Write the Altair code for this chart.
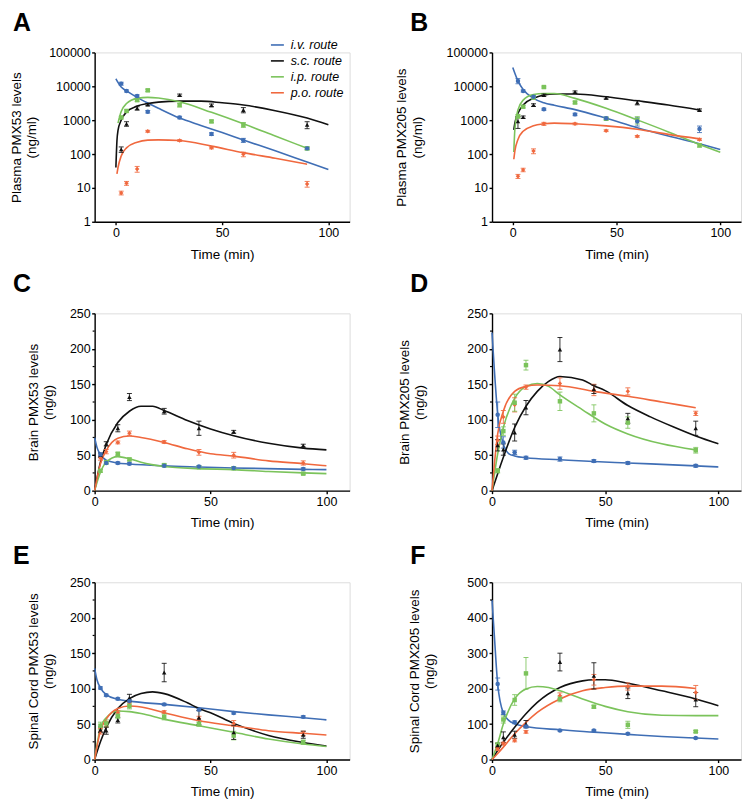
import altair as alt
import pandas as pd

FONT = "Liberation Sans"
ROUTES = ["i.v. route", "s.c. route", "i.p. route", "p.o. route"]
COLORS = ["#3F6EB5", "#111111", "#7BC35B", "#F0683E"]
SHAPES = ["circle", "triangle-up", "square", "diamond"]
TIMES = [2.5, 5, 10, 15, 30, 45, 60, 90]

# ---------------- Panel A: Plasma PMX53 (ng/ml) ----------------
A_IV = [12000, 7300, 5200, 1780, 1200, 390, 255, 147]
A_IV_E = [1200, 500, 400, 150, 100, 35, 35, 12]
A_SC = [137, 780, 2240, 2870, 5500, 2750, 2000, 730]
A_SC_E = [25, 120, 250, 200, 400, 250, 350, 170]
A_IP = [1200, 1870, 3900, 7600, 2800, 920, 730, 147]
A_IP_E = [100, 150, 300, 600, 350, 80, 120, 15]
A_PO = [7.1, 13.7, 36, 470, 250, 152, 98, 13]
A_PO_E = [0.9, 1.8, 7, 30, 15, 10, 15, 2.5]
A_IV_CT = [0, 2.5, 5, 10, 15, 20, 30, 40, 50, 60, 75, 90, 100]
A_IV_CY = [16700, 9500, 7300, 4700, 3200, 2240, 1150, 700, 430, 260, 124, 58, 35]
A_SC_CT = [0, 0.5, 1, 2.5, 5, 10, 15, 20, 30, 40, 50, 60, 75, 90, 100]
A_SC_CY = [40, 250, 500, 1000, 1750, 2600, 3100, 3400, 3650, 3650, 3250, 2800, 1900, 1150, 730]
A_IP_CT = [1, 2.5, 5, 10, 15, 20, 30, 45, 60, 75, 90]
A_IP_CY = [820, 1800, 3100, 4400, 4700, 4500, 3500, 1700, 780, 340, 148]
A_PO_CT = [0.5, 1, 2.5, 5, 10, 15, 20, 30, 45, 60, 75, 90]
A_PO_CY = [26, 40, 88, 152, 224, 257, 262, 250, 171, 110, 75, 50]

# ---------------- Panel B: Plasma PMX205 (ng/ml) ----------------
B_IV = [14400, 7300, 4900, 2100, 1480, 1140, 920, 550]
B_IV_E = [2500, 500, 400, 150, 120, 100, 250, 120]
B_SC = [920, 1230, 2800, 5500, 6800, 4600, 3330, 2000]
B_SC_E = [350, 100, 250, 400, 500, 400, 500, 150]
B_IP = [1300, 2500, 4600, 9500, 3330, 1100, 1020, 180]
B_IP_E = [150, 200, 300, 600, 300, 100, 250, 20]
B_PO = [22, 34, 122, 780, 780, 490, 333, 270]
B_PO_E = [3, 4, 20, 80, 50, 30, 20, 20]
B_IV_CT = [0, 2.5, 5, 10, 15, 20, 30, 45, 60, 75, 90, 100]
B_IV_CY = [36000, 14400, 8000, 4400, 3270, 2750, 2050, 1140, 600, 340, 200, 137]
B_SC_CT = [0.5, 1, 2.5, 5, 10, 15, 20, 30, 45, 60, 75, 90]
B_SC_CY = [520, 820, 1600, 2800, 4400, 5500, 5900, 5900, 4900, 3730, 2800, 2000]
B_IP_CT = [0.5, 1, 2.5, 5, 10, 15, 20, 30, 45, 60, 75, 90, 100]
B_IP_CY = [115, 520, 2000, 3900, 5700, 6100, 6100, 4400, 2240, 1020, 450, 190, 112]
B_PO_CT = [0.5, 1, 2.5, 5, 10, 15, 20, 30, 45, 60, 75, 90]
B_PO_CY = [70, 122, 270, 470, 680, 780, 820, 780, 680, 540, 380, 280]

# ---------------- Panel C: Brain PMX53 (ng/g) ----------------
C_IV = [51, 39, 39, 38, 35, 34, 32, 30.6]
C_IV_E = [2, 1.5, 1.5, 1.5, 1.5, 1.5, 1.5, 1.5]
C_SC = [50, 66, 88, 132, 112, 88, 83, 63.5]
C_SC_E = [3, 3, 5, 5, 4, 10, 2, 2]
C_IP = [28, 40, 52, 44, 36, 33, 31.5, 24]
C_IP_E = [2, 2, 2, 2, 2, 1.5, 1.5, 1.5]
C_PO = [46, 55, 68, 81, 68.6, 54, 50, 39]
C_PO_E = [3, 3, 2, 3, 2, 4, 4, 3]
C_IV_CT = [0, 1, 2.5, 5, 10, 15, 30, 45, 60, 90, 100]
C_IV_CY = [75, 61, 51, 43, 39, 37.6, 35, 33.4, 32, 30, 29.7]
C_SC_CT = [0, 2.5, 5, 10, 15, 20, 25, 30, 40, 50, 60, 75, 90, 100]
C_SC_CY = [0, 40, 65, 96, 112, 119, 119, 113, 99, 87, 77.5, 66.8, 60, 57.5]
C_IP_CT = [0, 2.5, 5, 10, 15, 20, 30, 45, 60, 75, 90, 100]
C_IP_CY = [0, 26, 40, 48, 45, 40, 34, 31, 29.7, 27, 25, 24]
C_PO_CT = [0, 2.5, 5, 10, 15, 20, 30, 40, 50, 60, 75, 90, 100]
C_PO_CY = [0, 38, 56.6, 74, 77, 75, 68, 59, 52, 48.7, 42, 38, 35]

# ---------------- Panel D: Brain PMX205 (ng/g) ----------------
D_IV = [107, 68, 54, 46.4, 44.5, 41.7, 39, 35]
D_IV_E = [18, 8, 3, 2, 3, 2, 2, 2]
D_SC = [64, 58, 82, 117, 199, 143, 102, 88]
D_SC_E = [8, 8, 12, 10, 17, 6, 7, 10]
D_IP = [28, 84, 124, 177, 126, 109, 96, 57]
D_IP_E = [3, 6, 12, 7, 13, 12, 8, 4]
D_PO = [71, 104, 121, 146, 151, 142, 140, 109]
D_PO_E = [6, 9, 10, 3, 8, 8, 5, 3]
D_IV_CT = [0, 1, 2.5, 5, 7.5, 10, 15, 30, 45, 60, 90, 100]
D_IV_CY = [223, 172, 108, 66, 52, 49, 46.4, 43.6, 41, 39, 35, 33.4]
D_SC_CT = [0, 2.5, 5, 10, 15, 20, 25, 30, 40, 45, 50, 60, 70, 80, 90, 100]
D_SC_CY = [0, 24, 47, 89, 119, 140, 154, 161, 156, 148, 141, 120, 104, 90, 77, 66]
D_IP_CT = [0, 2.5, 5, 10, 15, 20, 25, 30, 40, 50, 60, 75, 90]
D_IP_CY = [0, 52, 89, 130, 147, 151, 147, 135, 114, 94, 80, 66, 57.5]
D_PO_CT = [0, 2.5, 5, 10, 15, 20, 30, 45, 60, 75, 90]
D_PO_CY = [0, 80, 112, 140, 147, 149, 148, 140, 133, 125, 117]

# ---------------- Panel E: Spinal Cord PMX53 (ng/g) ----------------
E_IV = [101, 90.7, 85.6, 82.4, 77.8, 70.4, 65.7, 60.2]
E_IV_E = [1.5, 1.5, 1.5, 1.5, 1.5, 1.5, 1.5, 1.5]
E_SC = [42, 40.7, 55.6, 87, 122.7, 59, 38.4, 35]
E_SC_E = [4, 5, 4, 5, 13, 10, 10, 5]
E_IP = [47.7, 51, 61.6, 75.5, 60, 50, 33.8, 24.5]
E_IP_E = [5, 5, 4, 4, 4, 3, 6, 3]
E_PO = [40, 50, 66, 78, 67, 58, 51, 37]
E_PO_E = [4, 4, 3, 3, 2, 3, 4, 3]
E_IV_CT = [0, 1, 2.5, 5, 10, 15, 30, 45, 60, 75, 90, 100]
E_IV_CY = [128.7, 112.5, 101, 91.7, 85, 82.4, 77.8, 73, 67.6, 63, 59, 56]
E_SC_CT = [0, 2.5, 5, 10, 15, 20, 25, 30, 40, 45, 50, 60, 75, 90, 100]
E_SC_CY = [0, 25, 45, 72, 86, 93, 95.5, 93, 80, 72, 66, 51, 34, 24, 19]
E_IP_CT = [0, 2.5, 5, 10, 15, 20, 30, 45, 60, 75, 90, 100]
E_IP_CY = [0, 45, 59, 68.5, 67.6, 65, 57, 47.7, 38.4, 29, 22, 18.5]
E_PO_CT = [0, 2.5, 5, 10, 15, 20, 30, 45, 60, 75, 90, 100]
E_PO_CY = [0, 40.7, 57, 72, 75.5, 74, 66, 54.6, 47.7, 40.7, 37, 34.7]

# ---------------- Panel F: Spinal Cord PMX205 (ng/g) ----------------
F_IV = [213, 132, 105, 93, 82, 82, 73, 60.6]
F_IV_E = [17, 5, 4, 3, 2, 2, 2, 2]
F_SC = [40, 63, 70, 100, 275, 236, 187, 169]
F_SC_E = [6, 15, 10, 10, 25, 37, 15, 20]
F_IP = [42, 113, 168, 243, 171, 149, 98, 79]
F_IP_E = [5, 10, 15, 45, 8, 4, 10, 3]
F_PO = [30, 45, 54, 78, 180, 225, 206, 189]
F_PO_E = [4, 4, 4, 4, 8, 15, 10, 20]
F_IV_CT = [0, 1, 2.5, 5, 7.5, 10, 15, 30, 45, 60, 75, 90, 100]
F_IV_CY = [450, 352, 213, 131, 110, 101, 93, 84, 77.4, 71, 65, 60.6, 57.8]
F_SC_CT = [0, 2.5, 5, 10, 15, 20, 30, 40, 45, 50, 60, 75, 90, 100]
F_SC_CY = [0, 26, 49, 91, 129, 161, 203, 222, 225, 225, 215, 194, 171, 152]
F_IP_CT = [0, 2.5, 5, 10, 15, 20, 25, 30, 40, 50, 60, 75, 90, 100]
F_IP_CY = [0, 45, 100, 171, 199, 206, 203, 194, 171, 150, 135, 125, 124, 124]
F_PO_CT = [0, 2.5, 5, 10, 15, 20, 30, 40, 50, 60, 75, 90]
F_PO_CY = [0, 17, 35, 73, 105, 133, 171, 194, 203, 207, 207, 200.6]

LOGT = [1, 10, 100, 1000, 10000, 100000]
LIN250 = [0, 50, 100, 150, 200, 250]
LIN500 = [0, 100, 200, 300, 400, 500]
MINOR250 = [25, 75, 125, 175, 225]
MINOR500 = [50, 150, 250, 350, 450]

G = globals()


def frames(p):
    pts, cur = [], []
    for key, route in zip(["IV", "SC", "IP", "PO"], ROUTES):
        vals, errs = G[f"{p}_{key}"], G[f"{p}_{key}_E"]
        for t, v, e in zip(TIMES, vals, errs):
            pts.append({"route": route, "t": t, "v": v, "lo": v - e, "hi": v + e})
        for t, v in zip(G[f"{p}_{key}_CT"], G[f"{p}_{key}_CY"]):
            cur.append({"route": route, "t": t, "v": v})
    pts = pd.DataFrame(pts)
    pts["ord"] = pts["route"].map({r: i for i, r in enumerate(ROUTES[::-1])})
    pts = pts.sort_values("ord")
    return pts, pd.DataFrame(cur)


def panel(p, ytitle, log, ydom, yticks, minor, xdom, tpad, w, h, letter_y, legend=False):
    pts, cur = frames(p)
    xs = alt.Scale(domain=xdom, nice=False, zero=False)
    if log:
        ys = alt.Scale(type="log", domain=ydom, nice=False)
    else:
        ys = alt.Scale(domain=ydom, nice=False, zero=False)
    common = dict(domainColor="black", tickColor="black", labelColor="black",
                  titleColor="black", labelFont=FONT, titleFont=FONT,
                  labelFontSize=12.5, titleFontSize=13.5, titleFontWeight="normal",
                  grid=False, domainWidth=1.4, tickWidth=1.4, tickSize=3,
                  labelOverlap=False)
    xax = alt.Axis(values=[0, 50, 100], tickCount=3, title="Time (min)", titlePadding=8,
                   labelPadding=2, labelFlush=False, **common)
    yax = alt.Axis(values=yticks, tickCount=len(yticks), title=ytitle, titlePadding=tpad,
                   titleLineHeight=15.5, labelPadding=1.5, format="d", labelFlush=False,
                   **common)
    cscale = alt.Scale(domain=ROUTES, range=COLORS)
    if legend:
        leg = alt.Legend(title=None, orient="none", legendX=176, legendY=-15,
                         symbolType="stroke", symbolSize=169, symbolStrokeWidth=1.6,
                         labelFont=FONT, labelFontSize=12.5, labelFontStyle="italic",
                         labelColor="black", rowPadding=2, labelOffset=6, padding=0)
    else:
        leg = None

    def X(f="t"):
        return alt.X(f"{f}:Q", scale=xs, axis=xax)

    def Y(f):
        return alt.Y(f"{f}:Q", scale=ys, axis=yax)

    lines = alt.Chart(cur).mark_line(interpolate="monotone", strokeWidth=1.6).encode(
        x=X(), y=Y("v"),
        color=alt.Color("route:N", scale=cscale, legend=leg), detail="route:N")
    col = alt.Color("route:N", scale=cscale, legend=None)
    bars = alt.Chart(pts).mark_rule(strokeWidth=1, opacity=0.85).encode(
        x=X(), y=Y("lo"), y2="hi:Q", color=col)
    cap_lo = alt.Chart(pts).mark_tick(orient="horizontal", size=5, thickness=1, opacity=0.85).encode(
        x=X(), y=Y("lo"), color=col)
    cap_hi = alt.Chart(pts).mark_tick(orient="horizontal", size=5, thickness=1, opacity=0.85).encode(
        x=X(), y=Y("hi"), color=col)
    dots = alt.Chart(pts).mark_point(filled=True, size=20, opacity=1).encode(
        x=X(), y=Y("v"), color=col,
        shape=alt.Shape("route:N", scale=alt.Scale(domain=ROUTES, range=SHAPES), legend=None),
        order=alt.Order("ord:Q"))
    letter = alt.Chart(pd.DataFrame({"lab": [p]})).mark_text(
        font=FONT, fontSize=25, fontWeight="bold", align="left", baseline="top",
        color="black").encode(text="lab:N", x=alt.value(-82), y=alt.value(letter_y))
    layers = [lines, bars, cap_lo, cap_hi, dots, letter]
    if minor:
        mt = alt.Chart(pd.DataFrame({"m": minor})).mark_rule(color="black", strokeWidth=1.2).encode(
            y=Y("m"), x=alt.value(-2), x2=alt.value(0))
        layers.append(mt)
    return alt.layer(*layers).resolve_scale(
        color="independent", shape="independent").properties(width=w, height=h)


pA = panel("A", ["Plasma PMX53 levels", "(ng/ml)"], True, [1, 100000], LOGT, None, [-10, 110], 10, 256, 170, -42, legend=True)
pB = panel("B", ["Plasma PMX205 levels", "(ng/ml)"], True, [1, 100000], LOGT, None, [-10, 110], 22, 250, 170, -42)
pC = panel("C", ["Brain PMX53 levels", "(ng/g)"], False, [0, 250], LIN250, MINOR250, [0, 110], 14, 256, 178, -41)
pD = panel("D", ["Brain PMX205 levels", "(ng/g)"], False, [0, 250], LIN250, MINOR250, [0, 110], 40, 250, 178, -41)
pE = panel("E", ["Spinal Cord PMX53 levels", "(ng/g)"], False, [0, 250], LIN250, MINOR250, [0, 110], 14, 256, 178, -38)
pF = panel("F", ["Spinal Cord PMX205 levels", "(ng/g)"], False, [0, 500], LIN500, MINOR500, [0, 110], 30, 250, 178, -38)

chart = alt.concat(pA, pB, pC, pD, pE, pF, columns=2,
                   spacing={"row": 92, "column": 143},
                   bounds="flush", align="each", padding=0).resolve_scale(
    color="independent", shape="independent", x="independent", y="independent"
).configure_view(stroke=None).configure(background="white")

chart.save("out.html", embed_options={"renderer": "svg", "actions": False})
